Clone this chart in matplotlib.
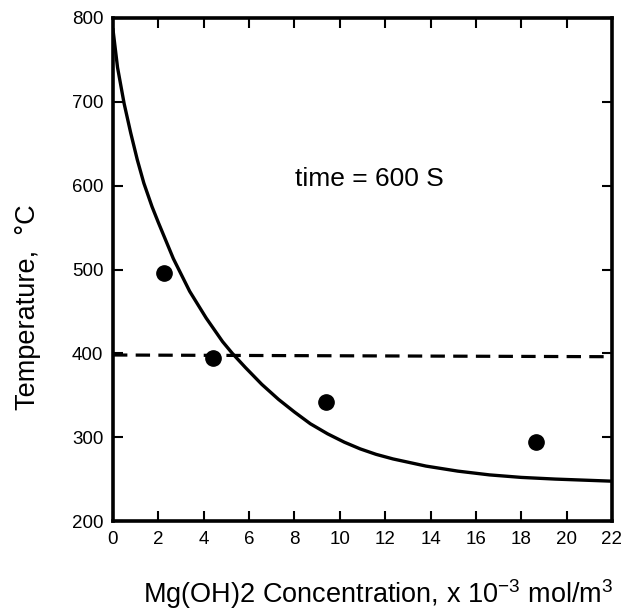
import matplotlib
matplotlib.use("Agg")
import matplotlib.pyplot as plt

plt.rcParams['font.family'] = ['Liberation Sans', 'DejaVu Sans']
plt.rcParams['mathtext.fontset'] = 'custom'
plt.rcParams['mathtext.rm'] = 'Liberation Sans'
plt.rcParams['mathtext.it'] = 'Liberation Sans'

# measured points
conc_pts = [2.24, 4.42, 9.41, 18.65]
temp_pts = [496, 395, 342, 294]

# fitted curve
curve_x = [0, 0.2, 0.49, 0.78, 1.07, 1.36, 1.72, 2.0, 2.66, 3.38, 4.11, 4.83, 5.26,
           5.84, 6.56, 7.3, 8.0, 8.7, 9.46, 10.2, 10.9, 11.6, 12.35, 13.8, 15.2, 16.6,
           18.0, 19.5, 21.0, 22.0]
curve_t = [786, 741, 698, 663, 631, 603, 575, 556, 513, 474, 442, 414, 400,
           383, 363, 345, 330, 316, 304, 294, 286, 279.5, 274, 265.5, 259.5, 255,
           252, 250, 248.5, 247.5]

# dashed reference line
ref_x = [0, 21.7]
ref_t = [398, 396]

xticks = list(range(0, 23, 2))
yticks = list(range(200, 801, 100))

fig = plt.figure(figsize=(6.33, 6.10), dpi=100)
ax = fig.add_axes([113 / 633, 1 - 521 / 610, (612 - 113) / 633, (521 - 18) / 610])

ax.plot(curve_x, curve_t, color='black', lw=2.4, solid_joinstyle='round')
ax.plot(ref_x, ref_t, color='black', lw=2.3, dashes=(4.5, 2.6))
ax.plot(conc_pts, temp_pts, 'o', color='black', markersize=11)

ax.set_xlim(0, 22)
ax.set_ylim(200, 800)
ax.set_xticks(xticks)
ax.set_yticks(yticks)
ax.tick_params(direction='in', length=7, width=1.5, labelsize=13.5,
               top=True, right=True, pad=7, colors='black')
for s in ax.spines.values():
    s.set_linewidth(2.6)

ax.text(11.3, 600, 'time = 600 S', fontsize=19, ha='center', va='baseline')

ax.set_xlabel('Mg(OH)2 Concentration, x 10$^{-3}$ mol/m$^{3}$', fontsize=19.5)
ax.xaxis.label.set_verticalalignment('baseline')
ax.xaxis.set_label_coords(0.532, -0.163)

ax.set_ylabel('Temperature,  \u00b0C', fontsize=19.5)
ax.yaxis.label.set_verticalalignment('center')
ax.yaxis.set_label_coords(-0.17, 0.425)

fig.savefig('out.png', dpi=100)
